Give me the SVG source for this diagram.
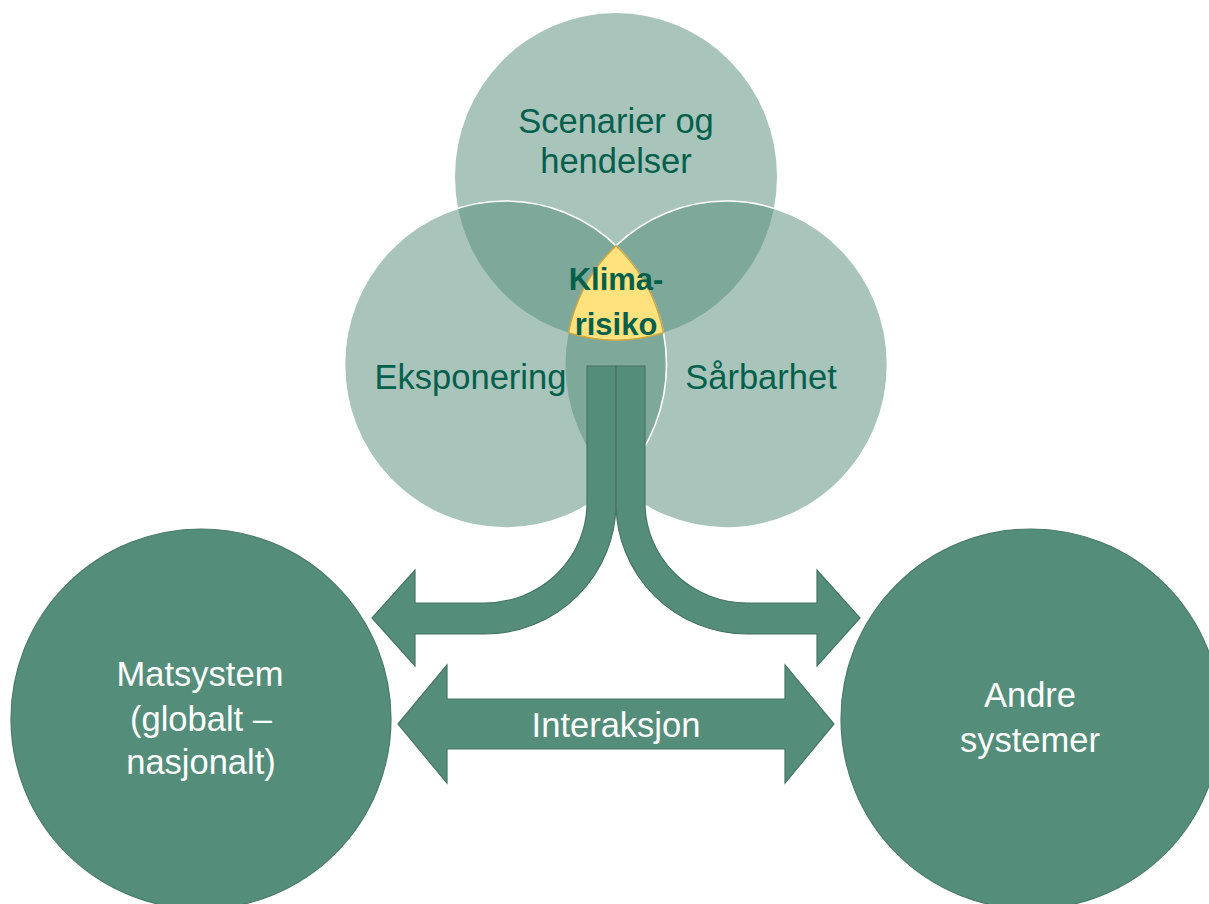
<svg xmlns="http://www.w3.org/2000/svg" width="1209" height="904" viewBox="0 0 1209 904">
<style>
.venn{fill:#548B78;fill-opacity:0.5;stroke:none}
.edge{fill:none;stroke:#ffffff;stroke-width:1.6}
.big{fill:#558D7B;stroke:#4A7B6B;stroke-width:1.2}
.arr{fill:#558D7B;stroke:#467565;stroke-width:1.2;stroke-linejoin:miter}
.dt{font-family:"Liberation Sans",Arial,sans-serif;font-size:34.5px;fill:#00604C;text-anchor:middle}
.wt{font-family:"Liberation Sans",Arial,sans-serif;font-size:34.5px;fill:#ffffff;text-anchor:middle}
.bt{font-family:"Liberation Sans",Arial,sans-serif;font-size:31px;font-weight:bold;fill:#00604C;text-anchor:middle}
</style>
<rect width="1209" height="904" fill="#ffffff"/>
<g id="venn">
  <g id="scenarier">
    <ellipse class="venn" cx="616" cy="176.5" rx="161" ry="163.5"/>
    <text class="dt" x="616" y="133">Scenarier og</text>
    <text class="dt" x="616" y="173">hendelser</text>
  </g>
  <g id="sarbarhet">
    <ellipse class="venn" cx="726.5" cy="364.5" rx="161" ry="163.5"/>
    <path class="edge" d="M616,245.6 A161,163.5 0 1 1 616,483.4"/>
    <text class="dt" x="761" y="389">Sårbarhet</text>
  </g>
  <g id="eksponering">
    <ellipse class="venn" cx="505.5" cy="364.5" rx="161" ry="163.5"/>
    <ellipse class="edge" cx="505.5" cy="364.5" rx="161" ry="163.5"/>
    <text class="dt" x="470.5" y="389">Eksponering</text>
  </g>
  <g id="klimarisiko">
    <path d="M616,245.6 A161,163.5 0 0 0 568.5,332.8 A161,163.5 0 0 0 663.5,332.8 A161,163.5 0 0 0 616,245.6 Z" fill="#FFE27E" stroke="#C9A845" stroke-width="1.5"/>
    <text class="bt" x="616" y="290">Klima-</text>
    <text class="bt" x="616" y="335">risiko</text>
  </g>
</g>
<g id="connectors">
  <path id="arrow-left" class="arr" d="M587,366 L616,366 L616,503 A131,131 0 0 1 485,634 L415,634 L415,666 L372,618 L415,570 L415,603 L485,603 A102,100 0 0 0 587,503 Z"/>
  <path id="arrow-right" class="arr" d="M645,366 L616,366 L616,503 A131,131 0 0 0 747,634 L817,634 L817,666 L860,618 L817,570 L817,603 L747,603 A102,100 0 0 1 645,503 Z"/>
  <g id="interaksjon">
    <path class="arr" d="M398,724 L447,665 L447,699 L785,699 L785,665 L834,724 L785,783 L785,749 L447,749 L447,783 Z"/>
    <text class="wt" x="616" y="737">Interaksjon</text>
  </g>
</g>
<g id="matsystem">
  <circle class="big" cx="201" cy="719" r="190"/>
  <text class="wt" x="200" y="686">Matsystem</text>
  <text class="wt" x="201" y="731">(globalt –</text>
  <text class="wt" x="201" y="774">nasjonalt)</text>
</g>
<g id="andre">
  <circle class="big" cx="1031" cy="719" r="190"/>
  <text class="wt" x="1030" y="707">Andre</text>
  <text class="wt" x="1030" y="752">systemer</text>
</g>
</svg>
